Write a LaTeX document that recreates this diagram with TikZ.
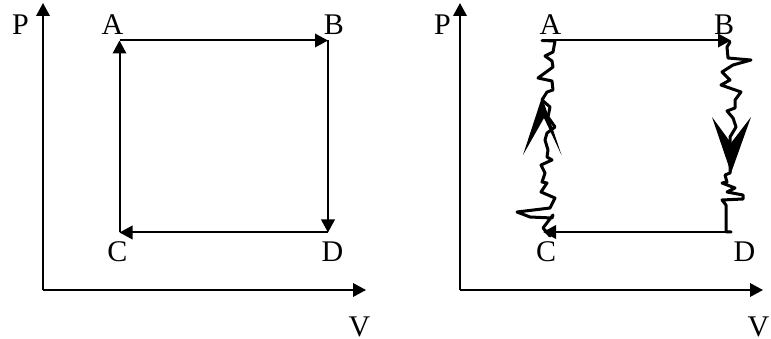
\documentclass[tikz,border=0pt]{standalone}
\usepackage{fontspec}
\setmainfont{Liberation Serif}
\usetikzlibrary{arrows.meta}
\tikzset{
 lab/.style={inner sep=0pt,anchor=base,font=\fontsize{30}{30}\selectfont,text=black},
 conn/.style={draw=black,line width=2pt,-{Triangle[length=13pt,width=13.5pt]}},
 wig/.style={draw=black,line width=3pt,line join=round,line cap=round},
 chev/.style={fill=black,draw=none}
}
\begin{document}
\begin{tikzpicture}[x=1pt,y=-1pt]
\useasboundingbox (0,0) rectangle (771,339);
% left
\coordinate (o1) at (43,290);
\coordinate (p1) at (43,3);
\coordinate (v1) at (366,290);
\coordinate (a1) at (119.5,40.5);
\coordinate (b1) at (328,40.5);
\coordinate (c1) at (119.5,232.5);
\coordinate (d1) at (328,232.5);
\draw[conn] (o1) -- (p1);
\draw[conn] (o1) -- (v1);
\draw[conn] (a1) -- (b1);
\draw[conn] (b1) -- (d1);
\draw[conn] (d1) -- (c1);
\draw[conn] (c1) -- (a1);
\node[lab] (lp1) at (20.5,35) {P};
\node[lab] (la1) at (112.5,35) {A};
\node[lab] (lb1) at (334,35) {B};
\node[lab] (lc1) at (117.5,261.5) {C};
\node[lab] (ld1) at (332.5,261.5) {D};
\node[lab] (lv1) at (359.5,336) {V};
% right
\coordinate (o2) at (460,290);
\coordinate (p2) at (460,3);
\coordinate (v2) at (763,290);
\coordinate (a2) at (542,40.5);
\coordinate (b2) at (731,40.5);
\coordinate (c2) at (543,232);
\coordinate (d2) at (731,232);
\draw[conn] (o2) -- (p2);
\draw[conn] (o2) -- (v2);
\draw[conn] (a2) -- (b2);
\draw[conn] (d2) -- (c2);
\node[lab] (lp2) at (442.5,35) {P};
\node[lab] (la2) at (550.5,35) {A};
\node[lab] (lb2) at (724,35) {B};
\node[lab] (lc2) at (546,261.5) {C};
\node[lab] (ld2) at (744.5,261.5) {D};
\node[lab] (lv2) at (758.5,336) {V};
% left wiggle
\draw[wig] (a2) -- (555,41) -- (553,52) -- (545,56) -- (552,61) -- (553,67) -- (538,78) -- (552,81) -- (553,90) -- (547,92) -- (542,100) -- (550,107) -- (548,117) -- (555,127) -- (547,133) -- (545,140)
 -- (548,150) -- (547,157) -- (552,160) -- (541,165) -- (545,173) -- (542,182) -- (547,183) -- (541,192) -- (555,198) -- (550,208) -- (517,212) -- (530,217) -- (552,218) -- (553,215) -- (543,228) -- (550,236);
\fill[chev] (542,97) -- (523,155) -- (544,118) -- (561.5,155) -- cycle;
% right wiggle
\draw[wig] (730,42) -- (727,47) -- (728,58) -- (751,60) -- (733,65) -- (722,72) -- (730,80) -- (721,85) -- (741,92) -- (735,100) -- (735,108) -- (727,111) -- (733,118) -- (736,127) -- (730,137) -- (730,173) -- (725,175) -- (727,182) -- (722,183) -- (735,188) -- (727,192) -- (743,195) -- (743,199) -- (722,200) -- (726,205) -- (726,232) -- (d2);
\fill[chev] (712,117) -- (731,173) -- (751,117) -- (731,143) -- cycle;
\end{tikzpicture}
\end{document}
